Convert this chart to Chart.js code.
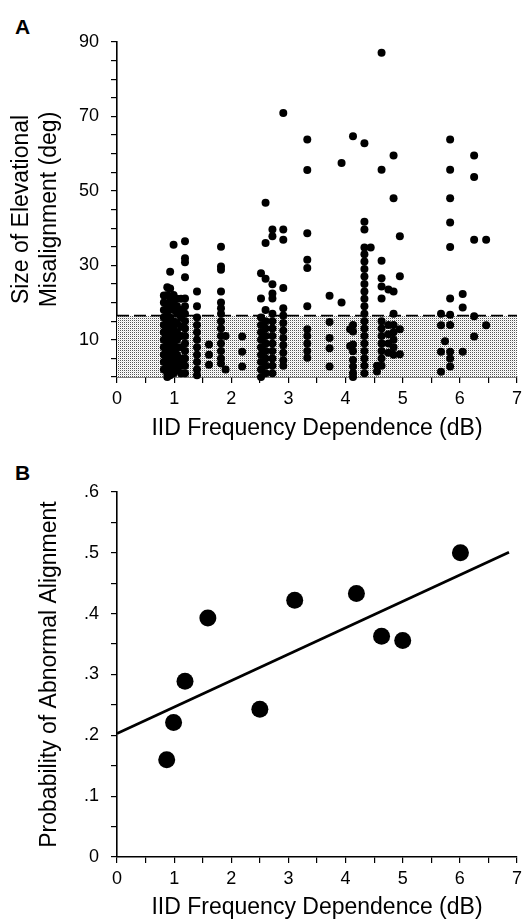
<!DOCTYPE html>
<html lang="en">
<head>
    <meta charset="UTF-8">
    <title>IID Frequency Dependence</title>
    <script src="https://cdn.jsdelivr.net/npm/chart.js"></script>
    <style>
        body {
            margin: 0;
            background: #fff;
            width: 527px;
            height: 923px;
            position: relative;
            overflow: hidden;
            font-family: 'Liberation Sans', Arial, sans-serif;
        }
        canvas {
            position: absolute;
            left: 0;
        }
        #chartA { top: 0; }
        #chartB { top: 460px; }
        .panel {
            position: absolute;
            left: 15px;
            font-weight: bold;
            font-size: 21px;
            line-height: 21px;
        }
    </style>
</head>
<body>
    <div class="panel" style="top:16px">A</div>
    <div class="panel" style="top:462px">B</div>
    <canvas id="chartA" width="527" height="460"></canvas>
    <canvas id="chartB" width="527" height="463"></canvas>

    <script>
        // Panel A: IID frequency dependence (x) per site, misalignment values (y) for each column of points
        const colX = [0.82, 0.88, 0.93, 0.99, 1.05, 1.12, 1.19, 1.40, 1.61, 1.82, 1.90, 2.19,
                      2.52, 2.60, 2.72, 2.91, 3.33, 3.72, 3.93, 4.08, 4.13, 4.33, 4.44, 4.55,
                      4.63, 4.75, 4.84, 4.95, 5.67, 5.74, 5.83, 6.05, 6.25, 6.46];
        const colY = [
            [21.9, 20, 18, 16, 14, 12, 10, 8, 6, 4, 2],
            [24.1, 22, 19.5, 17.5, 15, 13, 11, 9, 7, 5, 3, 1, 0],
            [28.3, 23.8, 21, 19, 16, 14, 12, 10, 8, 6, 4, 2, 0.5],
            [35.5, 22, 20, 18, 15, 13, 11, 9, 7, 5, 3, 1],
            [21, 19, 17, 14.5, 12, 10, 8, 6, 4, 2],
            [21, 18, 16, 13.5, 11, 8, 5, 3, 1],
            [36.5, 31.9, 30.8, 26.8, 21.1, 19, 17, 15, 13, 11, 9, 7, 5, 3, 1],
            [23, 19, 16, 14, 12, 10, 8, 6, 4, 2, 0.5],
            [8.7, 6, 3.3],
            [35, 29.7, 28.8, 23, 20, 18.5, 17, 15, 13, 11, 9, 7, 5, 3.6],
            [11, 2],
            [10.9, 6.8, 2.8],
            [27.9, 21.1, 16, 14, 12, 10, 8, 6, 4, 2, 0],
            [46.8, 36, 26.4, 18, 15, 13, 11, 9, 7, 5, 3, 1],
            [39.6, 37.8, 24.9, 22.4, 21.1, 17, 15, 13, 11, 9, 7, 5, 3, 1],
            [70.9, 39.6, 36.9, 23.9, 18.5, 16.5, 14.5, 12.5, 10.5, 8.5, 6.5, 4.5, 3],
            [63.8, 55.6, 38.6, 31.5, 29.3, 19, 12.8, 11, 9, 7, 5.2],
            [21.8, 14.8, 10.5, 7.7, 2.8],
            [57.5, 20],
            [12.8, 8.3],
            [64.7, 14, 12.2, 8.7, 6.9, 4.6, 2.8, 1.1, 0],
            [62.8, 41.7, 39.6, 34.8, 33, 31, 29, 27, 25, 23, 21, 19, 17, 15, 13, 11, 9, 7, 5, 3, 1],
            [34.8],
            [3, 1.5],
            [87.1, 55.7, 31.2, 26.5, 24.3, 21.1, 15, 13, 11, 9, 7, 5, 3],
            [23.5, 14, 11.5, 9, 6.5],
            [59.5, 48, 23, 17, 14, 12, 10, 8, 6],
            [37.8, 27.1, 12.8, 6.1],
            [17, 13.9, 6.8, 1.4],
            [9.6],
            [63.8, 55.7, 48, 41.5, 34.9, 21.1, 16.7, 14, 6.8, 5, 2.8],
            [22.3, 18.7, 6.8],
            [59.5, 53.7, 36.9, 16.3, 10.9],
            [36.9, 13.9]
        ];
        // normal range (shaded) upper limit
        const normalX = [0, 7];
        const normalY = [16.5, 16.5];

        // Panel B: probability of abnormal alignment
        const probX = [0.87, 0.99, 1.19, 1.59, 2.50, 3.11, 4.19, 4.63, 5.00, 6.01];
        const probY = [0.160, 0.221, 0.289, 0.393, 0.243, 0.422, 0.433, 0.363, 0.356, 0.500];
        const fitX = [0, 6.86];
        const fitY = [0.203, 0.501];

        const FONT = "'Liberation Sans', Arial, sans-serif";
        const xTitle = 'IID Frequency Dependence (dB)';

        // halftone fill for the shaded band
        function makePattern() {
            const c = document.createElement('canvas');
            c.width = 2; c.height = 2;
            const g = c.getContext('2d');
            g.fillStyle = '#fff';
            g.fillRect(0, 0, 2, 2);
            g.fillStyle = '#555';
            g.fillRect(0, 0, 1, 1);
            g.fillStyle = '#e4e4e4';
            g.fillRect(1, 1, 1, 1);
            return g.createPattern(c, 'repeat');
        }

        function axisStyle() {
            return {
                grid: { display: true, drawOnChartArea: false, drawTicks: true, tickLength: 6, color: '#000', lineWidth: 1.2 },
                border: { display: true, color: '#000', width: 1.6 }
            };
        }

        const pts = [];
        colX.forEach((x, i) => colY[i].forEach(y => pts.push({ x: x, y: y })));

        new Chart(document.getElementById('chartA'), {
            type: 'scatter',
            data: {
                datasets: [{
                    type: 'line',
                    data: normalX.map((x, i) => ({ x: x, y: normalY[i] })),
                    borderColor: '#000',
                    borderWidth: 1.8,
                    borderDash: [12, 5],
                    pointRadius: 0,
                    fill: 'origin',
                    backgroundColor: makePattern(),
                    order: 2
                }, {
                    data: pts,
                    backgroundColor: '#000',
                    borderColor: '#000',
                    pointRadius: 4,
                    borderWidth: 0,
                    clip: false,
                    order: 1
                }]
            },
            options: {
                responsive: false,
                animation: false,
                layout: { padding: { top: 42, right: 10, left: 0, bottom: 0 } },
                plugins: { legend: { display: false }, tooltip: { enabled: false } },
                scales: {
                    x: {
                        type: 'linear', min: 0, max: 7,
                        ...axisStyle(),
                        afterFit: s => { s.height = 83; },
                        ticks: {
                            stepSize: 0.5, autoSkip: false, maxRotation: 0, padding: 5,
                            color: '#000', font: { family: FONT, size: 18 },
                            callback: v => Number.isInteger(v) ? v : ''
                        },
                        title: {
                            display: true, text: xTitle, color: '#000',
                            font: { family: FONT, size: 23, lineHeight: 28 / 23 },
                            padding: { top: 0, bottom: 17 }
                        }
                    },
                    y: {
                        type: 'linear', min: 0, max: 90,
                        ...axisStyle(),
                        afterFit: s => { s.width = 117; },
                        ticks: {
                            stepSize: 5, autoSkip: false, padding: 12,
                            color: '#000', font: { family: FONT, size: 18 },
                            callback: v => (v % 20 === 10 ? v : '')
                        },
                        title: {
                            display: true, text: ['Size of Elevational', 'Misalignment (deg)'], color: '#000',
                            font: { family: FONT, size: 23, lineHeight: 28 / 23 },
                            padding: { top: 8, bottom: 0 }
                        }
                    }
                }
            }
        });

        new Chart(document.getElementById('chartB'), {
            type: 'scatter',
            data: {
                datasets: [{
                    type: 'line',
                    data: fitX.map((x, i) => ({ x: x, y: fitY[i] })),
                    borderColor: '#000',
                    borderWidth: 2.8,
                    pointRadius: 0,
                    fill: false,
                    order: 2
                }, {
                    data: probX.map((x, i) => ({ x: x, y: probY[i] })),
                    backgroundColor: '#000',
                    borderColor: '#000',
                    pointRadius: 8.5,
                    borderWidth: 0,
                    clip: false,
                    order: 1
                }]
            },
            options: {
                responsive: false,
                animation: false,
                layout: { padding: { top: 32, right: 5, left: 0, bottom: 0 } },
                plugins: { legend: { display: false }, tooltip: { enabled: false } },
                scales: {
                    x: {
                        type: 'linear', min: 0, max: 7,
                        ...axisStyle(),
                        afterFit: s => { s.height = 66; },
                        ticks: {
                            stepSize: 0.5, autoSkip: false, maxRotation: 0, padding: 5,
                            color: '#000', font: { family: FONT, size: 18 },
                            callback: v => Number.isInteger(v) ? v : ''
                        },
                        title: {
                            display: true, text: xTitle, color: '#000',
                            font: { family: FONT, size: 23, lineHeight: 28 / 23 },
                            padding: { top: 0, bottom: 1 }
                        }
                    },
                    y: {
                        type: 'linear', min: 0, max: 0.6,
                        ...axisStyle(),
                        afterFit: s => { s.width = 117; },
                        ticks: {
                            stepSize: 0.05, autoSkip: false, padding: 12,
                            color: '#000', font: { family: FONT, size: 18 },
                            callback: v => {
                                const k = Math.round(v * 100);
                                if (k % 10 !== 0) return '';
                                return k === 0 ? '0' : '.' + (k / 10);
                            }
                        },
                        title: {
                            display: true, text: 'Probability of Abnormal Alignment', color: '#000',
                            font: { family: FONT, size: 23, lineHeight: 28 / 23 },
                            padding: { top: 36, bottom: 0 }
                        }
                    }
                }
            }
        });
    </script>
</body>
</html>
